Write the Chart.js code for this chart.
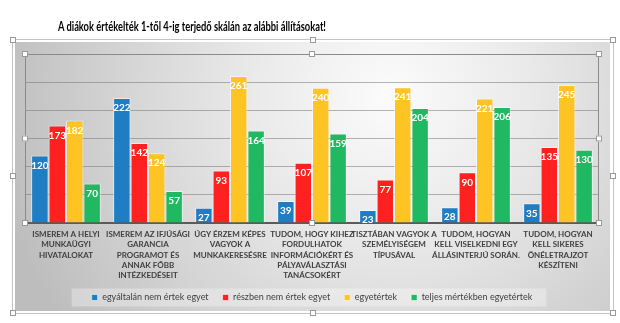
<!DOCTYPE html>
<html><head><meta charset="utf-8">
<script src="https://cdn.jsdelivr.net/npm/chart.js@4.4.1/dist/chart.umd.min.js"></script>
<style>
html,body{margin:0;padding:0;background:#fff;width:620px;height:323px;overflow:hidden;}
#title{position:absolute;left:58px;top:19px;font:bold 12.5px Lato,"Liberation Sans",sans-serif;color:#000;white-space:nowrap;transform-origin:0 0;}
#wrap{position:absolute;left:0;top:0;width:620px;height:323px;}
</style></head>
<body>
<div id="wrap"><canvas id="c" width="620" height="323"></canvas></div>
<div id="title">A diákok értékelték 1-től 4-ig terjedő skálán az alábbi állításokat!</div>
<script>
const categories = [
  ["ISMEREM A HELYI","MUNKAÜGYI","HIVATALOKAT"],
  ["ISMEREM AZ IFJÚSÁGI","GARANCIA","PROGRAMOT ÉS","ANNAK FŐBB","INTÉZKEDÉSEIT"],
  ["ÚGY ÉRZEM KÉPES","VAGYOK A","MUNKAKERESÉSRE"],
  ["TUDOM, HOGY KIHEZ","FORDULHATOK","INFORMÁCIÓKÉRT ÉS","PÁLYAVÁLASZTÁSI","TANÁCSOKÉRT"],
  ["TISZTÁBAN VAGYOK A","SZEMÉLYISÉGEM","TÍPUSÁVAL"],
  ["TUDOM, HOGYAN","KELL VISELKEDNI EGY","ÁLLÁSINTERJÚ SORÁN."],
  ["TUDOM, HOGYAN","KELL SIKERES","ÖNÉLETRAJZOT","KÉSZÍTENI"]
];
const seriesNames = ["egyáltalán nem értek egyet","részben nem értek egyet","egyetértek","teljes mértékben egyetértek"];
const seriesColors = ["#1F7DC4","#FF2020","#FEC423","#21B862"];
const notAgree = [120,222,27,39,23,28,35];
const partlyNotAgree = [173,142,93,107,77,90,135];
const agree = [182,124,261,240,241,221,245];
const fullyAgree = [70,57,164,159,204,206,130];
const seriesValues = [notAgree, partlyNotAgree, agree, fullyAgree];
const yMax = 300, yStep = 50;

const FONT = 'Lato,"Liberation Sans",sans-serif';

(function(){const t=document.getElementById('title');const w=t.getBoundingClientRect().width;t.style.transform='scaleX('+(268/w)+')';})();

function handle(ctx,x,y){
  ctx.fillStyle='#fff';ctx.strokeStyle='#9a9a9a';ctx.lineWidth=1;
  ctx.fillRect(x-3,y-3,6,6);ctx.strokeRect(x-2.5,y-2.5,5,5);
}

const bgPlugin = {
  id:'bg',
  beforeDraw(chart){
    const ctx=chart.ctx;
    ctx.save();
    ctx.fillStyle='#fff';ctx.fillRect(12,39,602,275);
    ctx.strokeStyle='#c4c4c4';ctx.lineWidth=1;ctx.strokeRect(12.5,39.5,601,274);
    const g=ctx.createRadialGradient(390,95,5,390,95,400);
    g.addColorStop(0,'#fbfbfb');g.addColorStop(0.35,'#e9e9e9');g.addColorStop(0.7,'#d2d2d2');g.addColorStop(1,'#bdbdbd');
    ctx.fillStyle=g;ctx.fillRect(15,42,595,269);
    const lg=chart.legend;
    if(lg && lg.legendHitBoxes && lg.legendHitBoxes.length){
      const hb=lg.legendHitBoxes;
      const l=hb[0].left-20, r=hb[hb.length-1].left+hb[hb.length-1].width+14;
      const cy=hb[0].top+hb[0].height/2;
      ctx.fillStyle='rgba(255,255,255,0.32)';ctx.fillRect(l,cy-9,r-l,18);
    }
    ctx.restore();
  },
  afterDraw(chart){
    const ctx=chart.ctx, a=chart.chartArea;
    ctx.save();
    ctx.strokeStyle='#8a8a8a';ctx.lineWidth=1;
    ctx.beginPath();
    ctx.moveTo(a.left+0.5,a.bottom);ctx.lineTo(a.left+0.5,a.top+0.5);ctx.lineTo(a.right-0.5,a.top+0.5);ctx.lineTo(a.right-0.5,a.bottom);
    ctx.stroke();
    const mx=(a.left+a.right)/2,my=(a.top+a.bottom)/2;
    [[a.left,a.top],[mx,a.top],[a.right,a.top],[a.left,my],[a.right,my],[a.left,a.bottom],[mx,a.bottom],[a.right,a.bottom]].forEach(p=>handle(ctx,p[0],p[1]));
    [[13,40],[313,40],[613,40],[13,176],[613,176],[13,313],[313,313],[613,313]].forEach(p=>handle(ctx,p[0],p[1]));
    ctx.restore();
  }
};

const labelPlugin = {
  id:'vals',
  afterDatasetsDraw(chart){
    const ctx=chart.ctx;
    ctx.save();
    ctx.fillStyle='#fff';ctx.font='bold 10px '+FONT;ctx.textAlign='center';ctx.textBaseline='middle';
    chart.data.datasets.forEach((ds,i)=>{
      chart.getDatasetMeta(i).data.forEach((bar,j)=>{
        ctx.fillText(String(ds.data[j]),bar.x,bar.y+10);
      });
    });
    ctx.restore();
  }
};

new Chart(document.getElementById('c'),{
  type:'bar',
  data:{
    labels:categories,
    datasets:seriesNames.map((n,i)=>({
      label:n,data:seriesValues[i],backgroundColor:seriesColors[i],
      borderColor:'rgba(255,255,255,0.55)',borderWidth:1,
      categoryPercentage:0.85,barPercentage:1.0
    }))
  },
  options:{
    responsive:false,animation:false,
    layout:{padding:{left:25,right:21,top:54,bottom:11}},
    plugins:{
      legend:{position:'bottom',
        labels:{boxWidth:6,boxHeight:6,padding:14,color:'#404040',font:{family:FONT,size:9}}},
      tooltip:{enabled:false}
    },
    scales:{
      x:{grid:{display:false},border:{color:'#5a5a5a',width:2},
        ticks:{color:'#404040',padding:-2,maxRotation:0,autoSkip:false,font:{family:FONT,size:8,weight:'bold',lineHeight:1.3}},
        afterFit(s){s.height=56;s._computeLabelArea=function(){return undefined;};}},
      y:{min:0,max:yMax,ticks:{display:false,stepSize:yStep},
        grid:{color:'rgba(120,120,120,0.55)',drawTicks:false},border:{display:false}}
    }
  },
  plugins:[bgPlugin,labelPlugin]
});
</script>
</body></html>
